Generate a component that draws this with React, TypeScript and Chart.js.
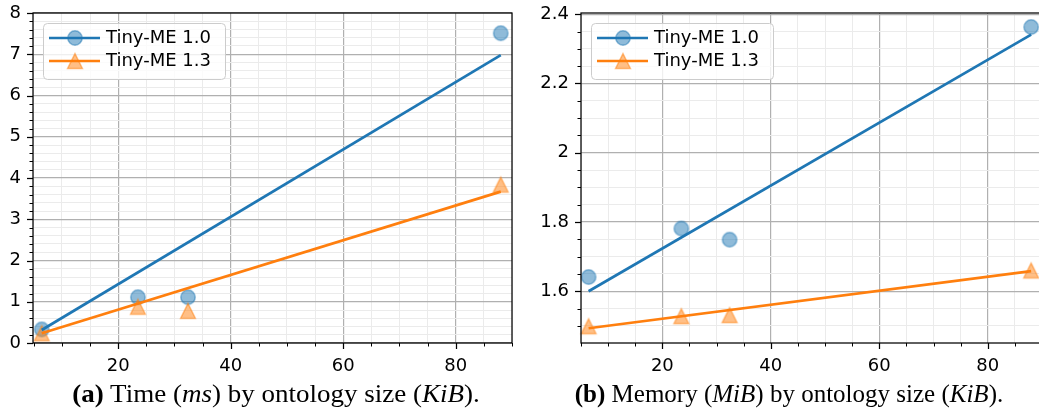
import React, { useEffect, useRef } from 'react';
import { Chart, registerables } from 'chart.js';

Chart.register(...registerables);

// ---------- data ----------
const seriesLabels = ['Tiny-ME 1.0', 'Tiny-ME 1.3'];
const ontologySizes = [6.4, 23.5, 32.4, 88.0];

const timeTiny10 = [0.33, 1.11, 1.11, 7.51];
const timeTiny13 = [0.235, 0.88, 0.78, 3.84];
const fitX = [6.4, 88.0];
const timeFit10 = [0.315, 6.98];
const timeFit13 = [0.235, 3.67];

const memTiny10 = [1.641, 1.781, 1.749, 2.363];
const memTiny13 = [1.499, 1.528, 1.531, 1.66];
const memFit10 = [1.6, 2.341];
const memFit13 = [1.493, 1.658];

const xMajorTicks = [20, 40, 60, 80];
const timeYMajorTicks = [0, 1, 2, 3, 4, 5, 6, 7, 8];
const memYMajorTicks = [1.6, 1.8, 2, 2.2, 2.4];

const BLUE = '#1f77b4';
const ORANGE = '#ff7f0e';

type PanelCfg = {
  ys10: number[];
  ys13: number[];
  fit10: number[];
  fit13: number[];
  xMin: number;
  xMax: number;
  yMin: number;
  yMax: number;
  xMinorStep: number;
  yMinorStep: number;
  yMajor: number[];
  yAxisWidth: number;
  padRight: number;
  canvasWidth: number;
  left: number;
};

function makeTicks(min: number, max: number, step: number) {
  const out: number[] = [];
  let k = Math.ceil(min / step - 1e-9);
  while (k * step <= max + 1e-9) {
    out.push(Math.round(k * step * 1e6) / 1e6);
    k++;
  }
  return out;
}

function isIn(list: number[], v: number) {
  return list.some((m) => Math.abs(m - v) < 1e-6);
}

function fmt(v: number) {
  return String(Math.round(v * 100) / 100);
}

function makeCircle() {
  const c = document.createElement('canvas');
  c.width = 18;
  c.height = 18;
  const g = c.getContext('2d')!;
  g.beginPath();
  g.arc(9, 9, 7.2, 0, Math.PI * 2);
  g.fillStyle = 'rgba(31,119,180,0.5)';
  g.fill();
  g.lineWidth = 1.5;
  g.strokeStyle = 'rgba(31,119,180,0.5)';
  g.stroke();
  return c;
}

function makeTriangle() {
  const c = document.createElement('canvas');
  c.width = 20;
  c.height = 20;
  const g = c.getContext('2d')!;
  g.beginPath();
  g.moveTo(10, 2.6);
  g.lineTo(2.6, 17.4);
  g.lineTo(17.4, 17.4);
  g.closePath();
  g.fillStyle = 'rgba(255,127,14,0.5)';
  g.fill();
  g.lineWidth = 1.5;
  g.lineJoin = 'miter';
  g.strokeStyle = 'rgba(255,127,14,0.5)';
  g.stroke();
  return c;
}

function Panel({ cfg }: { cfg: PanelCfg }) {
  const ref = useRef<HTMLCanvasElement | null>(null);

  useEffect(() => {
    if (!ref.current) return;
    const circle = makeCircle();
    const tri = makeTriangle();
    const xMinor = makeTicks(cfg.xMin, cfg.xMax, cfg.xMinorStep);
    const yMinor = makeTicks(cfg.yMin, cfg.yMax, cfg.yMinorStep);
    const isMajX = (v: number) => isIn(xMajorTicks, v);
    const isMajY = (v: number) => isIn(cfg.yMajor, v);

    const decor = {
      id: 'decor',
      afterDatasetsDraw(chart: any) {
        const { ctx, chartArea: a, scales } = chart;
        ctx.save();
        // spines
        ctx.strokeStyle = '#000';
        ctx.lineWidth = 1.25;
        ctx.strokeRect(a.left, a.top, a.right - a.left, a.bottom - a.top);
        // x tick marks
        for (const t of scales.x.ticks) {
          const px = Math.round(scales.x.getPixelForValue(t.value)) + 0.5;
          const maj = isMajX(t.value);
          ctx.lineWidth = maj ? 1.25 : 1;
          ctx.beginPath();
          ctx.moveTo(px, a.bottom);
          ctx.lineTo(px, a.bottom + (maj ? 6 : 3.5));
          ctx.stroke();
        }
        // y tick marks
        for (const t of scales.y.ticks) {
          const py = Math.round(scales.y.getPixelForValue(t.value)) + 0.5;
          const maj = isMajY(t.value);
          ctx.lineWidth = maj ? 1.25 : 1;
          ctx.beginPath();
          ctx.moveTo(a.left, py);
          ctx.lineTo(a.left - (maj ? 6 : 3.5), py);
          ctx.stroke();
        }
        // legend
        const bx = a.left + 10;
        const by = a.top + 10;
        const bw = 182;
        const bh = 56;
        ctx.beginPath();
        ctx.roundRect(bx + 0.5, by + 0.5, bw, bh, 4);
        ctx.fillStyle = 'rgba(255,255,255,0.8)';
        ctx.fill();
        ctx.strokeStyle = '#cccccc';
        ctx.lineWidth = 1;
        ctx.stroke();
        const items = [
          { color: BLUE, img: circle, label: seriesLabels[0] },
          { color: ORANGE, img: tri, label: seriesLabels[1] },
        ];
        items.forEach((it, i) => {
          const cy = by + 15 + i * 23;
          ctx.strokeStyle = it.color;
          ctx.lineWidth = 2.7;
          ctx.beginPath();
          ctx.moveTo(bx + 6, cy);
          ctx.lineTo(bx + 57, cy);
          ctx.stroke();
          ctx.drawImage(it.img, bx + 32 - it.img.width / 2, cy - it.img.height / 2);
          ctx.fillStyle = '#000';
          ctx.font = '18px "DejaVu Sans"';
          ctx.textBaseline = 'middle';
          ctx.textAlign = 'left';
          ctx.fillText(it.label, bx + 63, cy);
        });
        ctx.restore();
      },
    };

    const pts = (ys: number[]) => ontologySizes.map((x, i) => ({ x, y: ys[i] }));
    const fit = (ys: number[]) => fitX.map((x, i) => ({ x, y: ys[i] }));

    const chart = new Chart(ref.current, {
      type: 'scatter',
      data: {
        datasets: [
          {
            label: seriesLabels[0] + ' fit',
            data: fit(cfg.fit10),
            showLine: true,
            borderColor: BLUE,
            borderWidth: 2.7,
            pointRadius: 0,
            order: 0,
            clip: false,
          } as any,
          {
            label: seriesLabels[1] + ' fit',
            data: fit(cfg.fit13),
            showLine: true,
            borderColor: ORANGE,
            borderWidth: 2.7,
            pointRadius: 0,
            order: 0,
            clip: false,
          } as any,
          {
            label: seriesLabels[0],
            data: pts(cfg.ys10),
            pointStyle: circle,
            pointRadius: 7,
            order: 2,
            clip: false,
          } as any,
          {
            label: seriesLabels[1],
            data: pts(cfg.ys13),
            pointStyle: tri,
            pointRadius: 7,
            order: 1,
            clip: false,
          } as any,
        ],
      },
      options: {
        responsive: false,
        animation: false,
        devicePixelRatio: 1,
        layout: { padding: { top: 13, right: cfg.padRight, left: 0, bottom: 0 } },
        plugins: { legend: { display: false }, tooltip: { enabled: false } },
        events: [],
        scales: {
          x: {
            type: 'linear',
            min: cfg.xMin,
            max: cfg.xMax,
            afterBuildTicks: (s: any) => {
              s.ticks = xMinor.map((v) => ({ value: v }));
            },
            afterFit: (s: any) => {
              s.height = 70;
              s.paddingLeft = 0;
              s.paddingRight = 0;
            },
            grid: {
              drawTicks: false,
              color: (c: any) => (c.tick && isMajX(c.tick.value) ? '#b0b0b0' : '#ebebeb'),
              lineWidth: (c: any) => (c.tick && isMajX(c.tick.value) ? 1.2 : 1),
            },
            border: { display: false },
            ticks: {
              autoSkip: false,
              maxRotation: 0,
              minRotation: 0,
              padding: 13,
              color: '#000',
              font: { family: 'DejaVu Sans', size: 18 },
              callback: (v: any) => (isMajX(Number(v)) ? fmt(Number(v)) : ''),
            },
          },
          y: {
            type: 'linear',
            min: cfg.yMin,
            max: cfg.yMax,
            afterBuildTicks: (s: any) => {
              s.ticks = yMinor.map((v) => ({ value: v }));
            },
            afterFit: (s: any) => {
              s.width = cfg.yAxisWidth;
              s.paddingTop = 0;
              s.paddingBottom = 0;
            },
            grid: {
              drawTicks: false,
              color: (c: any) => (c.tick && isMajY(c.tick.value) ? '#b0b0b0' : '#ebebeb'),
              lineWidth: (c: any) => (c.tick && isMajY(c.tick.value) ? 1.2 : 1),
            },
            border: { display: false },
            ticks: {
              autoSkip: false,
              padding: 12,
              color: '#000',
              font: { family: 'DejaVu Sans', size: 18 },
              callback: (v: any) => (isMajY(Number(v)) ? fmt(Number(v)) : ''),
            },
          },
        },
      },
      plugins: [decor as any],
    });
    return () => chart.destroy();
  }, [cfg]);

  return (
    <canvas
      ref={ref}
      width={cfg.canvasWidth}
      height={413}
      style={{ position: 'absolute', left: cfg.left, top: 0, width: cfg.canvasWidth, height: 413, display: 'block' }}
    />
  );
}

const timeCfg: PanelCfg = {
  ys10: timeTiny10,
  ys13: timeTiny13,
  fit10: timeFit10,
  fit13: timeFit13,
  xMin: 4.85,
  xMax: 90,
  yMin: 0,
  yMax: 8,
  xMinorStep: 5,
  yMinorStep: 0.2,
  yMajor: timeYMajorTicks,
  yAxisWidth: 33,
  padRight: 3,
  canvasWidth: 520,
  left: 0,
};

const memCfg: PanelCfg = {
  ys10: memTiny10,
  ys13: memTiny13,
  fit10: memFit10,
  fit13: memFit13,
  xMin: 5.0,
  xMax: 90,
  yMin: 1.4505,
  yMax: 2.4035,
  xMinorStep: 5,
  yMinorStep: 0.05,
  yMajor: memYMajorTicks,
  yAxisWidth: 61,
  padRight: 4,
  canvasWidth: 530,
  left: 520,
};

const capStyle: React.CSSProperties = {
  position: 'absolute',
  top: 379,
  fontFamily: '"Liberation Serif", serif',
  fontSize: 25,
  lineHeight: '29px',
  whiteSpace: 'nowrap',
  color: '#000',
};

export default function App() {
  return (
    <div
      style={{
        position: 'fixed',
        left: 0,
        top: 0,
        width: 1039,
        height: 413,
        overflow: 'hidden',
        background: '#fff',
      }}
    >
      <Panel cfg={timeCfg} />
      <Panel cfg={memCfg} />
      <div style={{ ...capStyle, left: 276, transform: 'translateX(-50%) scaleX(1.08)' }}>
        <b>(a)</b> Time (<i>ms</i>) by ontology size (<i>KiB</i>).
      </div>
      <div style={{ ...capStyle, left: 789, transform: 'translateX(-50%)' }}>
        <b>(b)</b> Memory (<i>MiB</i>) by ontology size (<i>KiB</i>).
      </div>
    </div>
  );
}
